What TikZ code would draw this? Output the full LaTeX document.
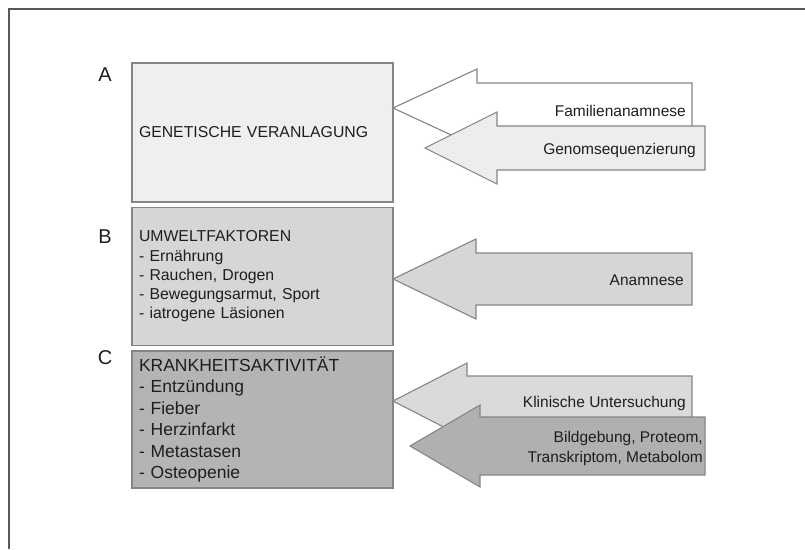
\documentclass[tikz,border=0pt]{standalone}
\usepackage{fontspec}
\setmainfont{Liberation Sans}
\usepackage{tikz}

\definecolor{frameline}{HTML}{585858}
\definecolor{boxline}{HTML}{858585}
\definecolor{inka}{HTML}{1E1E1E}
\definecolor{fillA}{HTML}{EFEFEF}
\definecolor{fillB}{HTML}{D6D6D6}
\definecolor{fillC}{HTML}{B4B4B4}
\definecolor{fillgenom}{HTML}{EDEDED}
\definecolor{fillklin}{HTML}{DADADA}
\definecolor{fillbild}{HTML}{B0B0B0}

\tikzset{
  factorbox/.style={draw=boxline,line width=1.2pt,rectangle,minimum width=261pt,
    inner xsep=7pt,text width=247pt,align=left,text=inka},
  arrowshape/.style={draw=boxline,line width=1.1pt,line join=miter},
  arrowtext/.style={anchor=east,text=inka,font=\fontsize{15.5}{20}\selectfont,inner sep=0pt},
  letter/.style={text=inka,font=\fontsize{20}{24}\selectfont}
}

\begin{document}
\begin{tikzpicture}[x=1pt,y=-1pt]
      \useasboundingbox (0,0) rectangle (805,549);
      \draw[frameline,line width=1.6pt] (9,549) -- (9,9) -- (805,9);
      % the three factor boxes
      \node[factorbox,fill=fillA,minimum height=139pt,font=\fontsize{15.8}{19.3}\selectfont] (genetik) at (262.5,132.5) {GENETISCHE VERANLAGUNG};
      \node[factorbox,fill=fillB,minimum height=138pt,font=\fontsize{15.8}{19.3}\selectfont] (umwelt) at (262.5,276.5) {UMWELTFAKTOREN\\- Ernährung\\- Rauchen, Drogen\\- Bewegungsarmut, Sport\\- iatrogene Läsionen};
      \node[factorbox,fill=fillC,minimum height=137pt,font=\fontsize{17.5}{21.4}\selectfont] (krankheit) at (262.5,419.5) {KRANKHEITSAKTIVITÄT\\- Entzündung\\- Fieber\\- Herzinfarkt\\- Metastasen\\- Osteopenie};
      \node[letter] (labA) at (105,75) {A};
      \node[letter] (labB) at (105,237) {B};
      \node[letter] (labC) at (105,358) {C};
      % arrows into A
      \filldraw[arrowshape,fill=white] (393,108) -- (477,69) -- (477,83) -- (692,83) -- (692,133) -- (477,133) -- (477,147) -- cycle;
      \node[arrowtext] (familie) at (686,111) {Familienanamnese};
      \filldraw[arrowshape,fill=fillgenom] (425,148) -- (497,112) -- (497,126) -- (705,126) -- (705,170) -- (497,170) -- (497,184) -- cycle;
      \node[arrowtext] (genom) at (696,150) {Genomsequenzierung};
      % arrow into B
      \filldraw[arrowshape,fill=fillB] (393,279) -- (476,239) -- (476,253) -- (692,253) -- (692,305) -- (476,305) -- (476,319) -- cycle;
      \node[arrowtext] (anamnese) at (684,280) {Anamnese};
      % arrows into C
      \filldraw[arrowshape,fill=fillklin] (393,401) -- (467,363) -- (467,376) -- (692,376) -- (692,426) -- (467,426) -- (467,439) -- cycle;
      \node[arrowtext] (klinik) at (686,403) {Klinische Untersuchung};
      \filldraw[arrowshape,fill=fillbild] (410,446) -- (480,405) -- (480,417) -- (705,417) -- (705,475) -- (480,475) -- (480,487) -- cycle;
      \node[arrowtext,align=right] (bild) at (703,448) {Bildgebung, Proteom,\\Transkriptom, Metabolom};
    \end{tikzpicture}
\end{document}
